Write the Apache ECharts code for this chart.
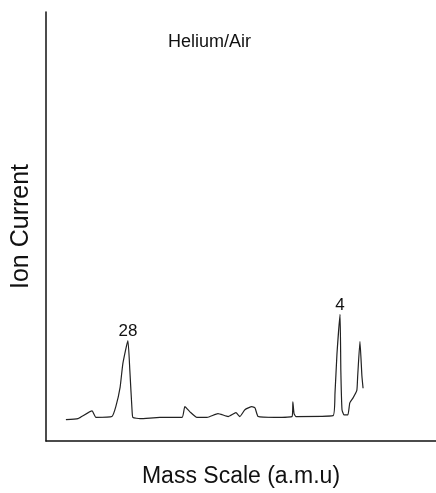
<!DOCTYPE html>
<html>
<head>
<meta charset="utf-8">
<script src="https://cdn.jsdelivr.net/npm/echarts@6/dist/echarts.min.js"></script>
<style>html,body{margin:0;padding:0;background:#fff;}#c{width:436px;height:493px;}</style>
</head>
<body>
<div id="c"></div>
<script>
// Mass scale position (relative units 0-100) and ion current (relative units 0-100)
var massPos = [5.1, 8.2, 11.8, 12.8, 16.9, 17.9, 19.0, 19.7, 21.0, 21.5, 22.1, 22.3, 24.1, 29.2, 34.9, 35.6, 36.9, 38.7, 41.3, 44.1, 46.7, 48.7, 49.7, 51.0, 52.8, 53.6, 54.4, 58.7, 63.1, 63.3, 63.6, 64.1, 73.6, 74.1, 74.6, 75.4, 75.6, 75.9, 76.4, 77.4, 77.9, 78.7, 79.7, 79.9, 80.5, 81.0, 81.3];
var ionCurrent = [5.0, 5.2, 7.0, 5.5, 5.7, 8.0, 12.5, 18.0, 23.4, 16.4, 6.6, 5.5, 5.2, 5.5, 5.5, 8.0, 6.8, 5.5, 5.5, 6.4, 5.7, 6.6, 5.7, 7.3, 8.0, 7.7, 5.7, 5.5, 5.7, 9.1, 6.4, 5.7, 5.9, 11.1, 20.2, 29.5, 16.4, 7.3, 6.1, 6.1, 8.9, 10.0, 11.8, 14.8, 23.2, 15.2, 12.3];
var peakLabels = ['28', '4'];
var peakPos = [21.0, 75.4];
var peakVal = [23.4, 29.5];

var chart = echarts.init(document.getElementById('c'), null, {renderer: 'canvas'});
var font = 'Liberation Sans, Arial, sans-serif';
var marks = peakLabels.map(function (t, i) {
  return {coord: [peakPos[i], peakVal[i]], value: t};
});
chart.setOption({
  animation: false,
  backgroundColor: '#fff',
  grid: {left: 46, right: 0, top: 12, bottom: 41},
  graphic: [{
    type: 'text', left: 168, top: 33,
    style: {text: 'Helium/Air', font: '18px ' + font, fill: '#111'}
  }],
  xAxis: {
    type: 'value', min: 0, max: 100,
    name: 'Mass Scale (a.m.u)', nameLocation: 'middle', nameGap: 24,
    nameTextStyle: {fontSize: 23, fontFamily: font, color: '#111'},
    axisLine: {show: true, lineStyle: {color: '#111', width: 1.5}},
    axisTick: {show: false}, axisLabel: {show: false}, splitLine: {show: false}
  },
  yAxis: {
    type: 'value', min: 0, max: 100,
    name: 'Ion Current', nameLocation: 'middle', nameGap: 12,
    nameTextStyle: {fontSize: 25, fontFamily: font, color: '#111'},
    axisLine: {show: true, lineStyle: {color: '#111', width: 1.5}},
    axisTick: {show: false}, axisLabel: {show: false}, splitLine: {show: false}
  },
  series: [{
    type: 'line',
    data: massPos.map(function (x, i) { return [x, ionCurrent[i]]; }),
    showSymbol: false, symbol: 'none', smooth: 0.15,
    lineStyle: {color: '#222', width: 1.2},
    markPoint: {
      symbol: 'circle', symbolSize: 0,
      label: {show: true, position: 'top', distance: 1, formatter: '{c}', fontSize: 17, fontFamily: font, color: '#111'},
      data: marks
    }
  }]
});
</script>
</body>
</html>
